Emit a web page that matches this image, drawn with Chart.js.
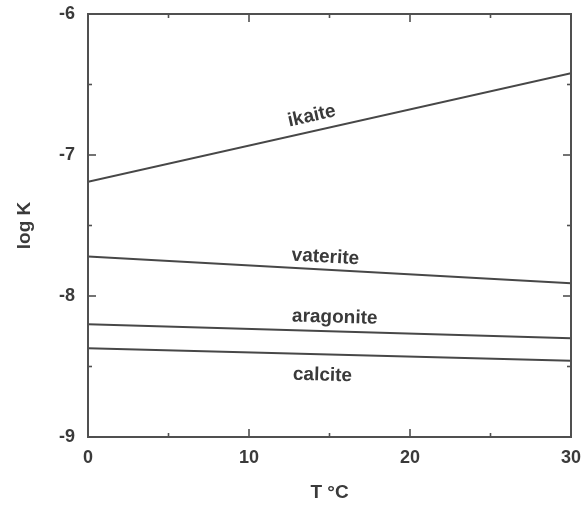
<!DOCTYPE html>
<html>
<head>
<meta charset="utf-8">
<script src="https://cdn.jsdelivr.net/npm/chart.js@4/dist/chart.umd.min.js"></script>
<style>
  html, body { margin: 0; padding: 0; background: #fff; }
  #wrap { width: 585px; height: 506px; }
</style>
</head>
<body>
<div id="wrap"><canvas id="c" width="585" height="506"></canvas></div>
<script>
// Temperature range (°C) at which each solubility product is given
const temperatures = [0, 30];

// log K of each CaCO3 phase at 0 and 30 °C
const ikaite    = [-7.19, -6.42];
const vaterite  = [-7.72, -7.91];
const aragonite = [-8.20, -8.30];
const calcite   = [-8.37, -8.46];

const seriesNames = ['ikaite', 'vaterite', 'aragonite', 'calcite'];

// Axis tick values
const xMajorTicks = [0, 10, 20, 30];
const xMinorTicks = [5, 15, 25];
const yMajorTicks = [-6, -7, -8, -9];
const yMinorTicks = [-6.5, -7.5, -8.5];

const INK = '#3a3a3a';
const LINE = '#474747';
const FONT = '"Liberation Sans", Arial, Helvetica, sans-serif';

// Where each phase name sits along its line: x in °C, offset in px (negative = above)
const curveLabels = [
  { series: 0, x: 14.1, offset: -15 },
  { series: 1, x: 14.7, offset: -12.5 },
  { series: 2, x: 15.3, offset: -14 },
  { series: 3, x: 14.6, offset: 21 }
];

const seriesValues = [ikaite, vaterite, aragonite, calcite];

function toPoints(vals) {
  return temperatures.map((t, i) => ({ x: t, y: vals[i] }));
}

// Frame, inward ticks on all four sides, and phase labels along the lines
const framePlugin = {
  id: 'frame',
  afterDraw(chart) {
    const { ctx, chartArea: a, scales } = chart;
    const xs = scales.x, ys = scales.y;
    ctx.save();
    ctx.strokeStyle = '#505050';
    ctx.lineWidth = 2;
    ctx.strokeRect(a.left, a.top, a.right - a.left, a.bottom - a.top);

    ctx.lineWidth = 1.6;
    const tick = (x1, y1, x2, y2) => {
      ctx.beginPath(); ctx.moveTo(x1, y1); ctx.lineTo(x2, y2); ctx.stroke();
    };
    xMajorTicks.forEach(v => {
      const px = xs.getPixelForValue(v);
      tick(px, a.bottom, px, a.bottom - 8);
      tick(px, a.top, px, a.top + 8);
    });
    xMinorTicks.forEach(v => {
      const px = xs.getPixelForValue(v);
      tick(px, a.bottom, px, a.bottom - 4);
      tick(px, a.top, px, a.top + 4);
    });
    yMajorTicks.forEach(v => {
      const py = ys.getPixelForValue(v);
      tick(a.left, py, a.left + 8, py);
      tick(a.right, py, a.right - 8, py);
    });
    yMinorTicks.forEach(v => {
      const py = ys.getPixelForValue(v);
      tick(a.left, py, a.left + 4, py);
      tick(a.right, py, a.right - 4, py);
    });

    ctx.fillStyle = INK;
    ctx.font = 'bold 19px ' + FONT;
    ctx.textAlign = 'center';
    ctx.textBaseline = 'middle';
    curveLabels.forEach(l => {
      const vals = seriesValues[l.series];
      const x0 = xs.getPixelForValue(temperatures[0]);
      const x1 = xs.getPixelForValue(temperatures[1]);
      const y0 = ys.getPixelForValue(vals[0]);
      const y1 = ys.getPixelForValue(vals[1]);
      const ang = Math.atan2(y1 - y0, x1 - x0);
      const px = xs.getPixelForValue(l.x);
      const py = y0 + (y1 - y0) * (px - x0) / (x1 - x0);
      ctx.save();
      ctx.translate(px - Math.sin(ang) * l.offset, py + Math.cos(ang) * l.offset);
      ctx.rotate(ang);
      ctx.fillText(seriesNames[l.series], 0, 0);
      ctx.restore();
    });
    ctx.restore();
  }
};

new Chart(document.getElementById('c'), {
  type: 'line',
  data: {
    datasets: seriesValues.map((vals, i) => ({
      label: seriesNames[i],
      data: toPoints(vals),
      borderColor: LINE,
      borderWidth: 2,
      pointRadius: 0,
      fill: false,
      tension: 0
    }))
  },
  options: {
    responsive: false,
    animation: false,
    layout: { padding: { top: 14, right: 14, left: 0, bottom: 0 } },
    plugins: { legend: { display: false }, tooltip: { enabled: false } },
    scales: {
      x: {
        type: 'linear',
        min: 0, max: 30,
        afterBuildTicks(scale) { scale.ticks = xMajorTicks.map(v => ({ value: v })); },
        afterFit(scale) { scale.height = 69; scale.paddingLeft = 0; scale.paddingRight = 0; },
        grid: { display: false, drawTicks: false },
        border: { display: false },
        ticks: {
          padding: 10,
          color: INK,
          font: { family: FONT, size: 18, weight: 'bold' },
          maxRotation: 0
        },
        title: {
          display: true,
          text: 'T °C',
          color: INK,
          padding: { top: 0, bottom: 2 },
          font: { family: FONT, size: 19, weight: 'bold' }
        }
      },
      y: {
        type: 'linear',
        min: -9, max: -6,
        afterBuildTicks(scale) { scale.ticks = yMajorTicks.slice().reverse().map(v => ({ value: v })); },
        afterFit(scale) { scale.width = 88; scale.paddingTop = 0; scale.paddingBottom = 0; },
        grid: { display: false, drawTicks: false },
        border: { display: false },
        ticks: {
          padding: 13,
          color: INK,
          font: { family: FONT, size: 18, weight: 'bold' }
        },
        title: {
          display: true,
          text: 'log K',
          color: INK,
          padding: { top: 13, bottom: 0 },
          font: { family: FONT, size: 19, weight: 'bold' }
        }
      }
    }
  },
  plugins: [framePlugin]
});
</script>
</body>
</html>
